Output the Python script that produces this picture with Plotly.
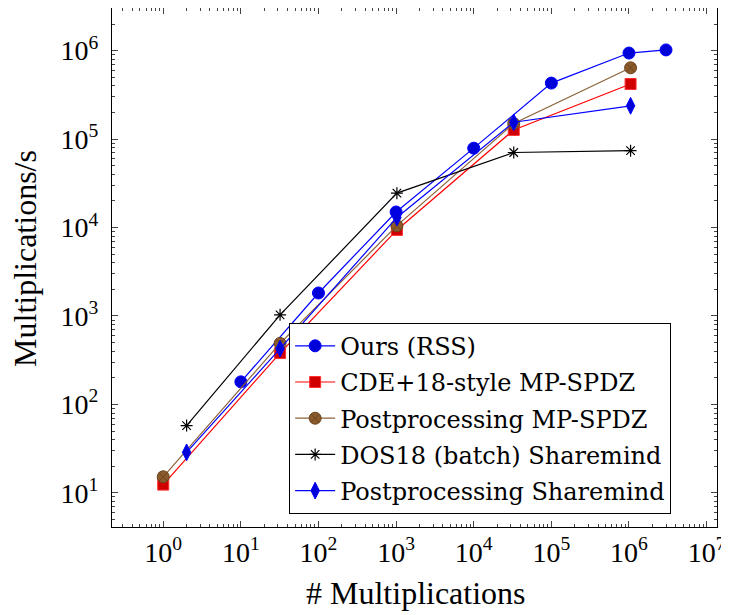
import plotly.graph_objects as go

# ---- data ----
ours_x = [10, 100, 1000, 1e4, 1e5, 1e6, 3e6]
ours_y = [180, 1820, 15000, 79000, 430000, 940000, 1020000]

cde_x = [1, 32, 1024, 32768, 1048576]
cde_y = [12.4, 381, 9400, 127000, 420000]

pp_spdz_x = [1, 32, 1024, 32768, 1048576]
pp_spdz_y = [15.2, 490, 10500, 150000, 640000]

dos_x = [2, 32, 1024, 32768, 1048576]
dos_y = [57.6, 1030, 24500, 70600, 74000]

pp_sm_x = [2, 32, 1024, 32768, 1048576]
pp_sm_y = [28.7, 427, 13000, 155000, 238000]

series_names = ["Ours (RSS)", "CDE+18-style MP-SPDZ", "Postprocessing MP-SPDZ",
                "DOS18 (batch) Sharemind", "Postprocessing Sharemind"]

x_tick_exps = [0, 1, 2, 3, 4, 5, 6, 7]
y_tick_exps = [1, 2, 3, 4, 5, 6]

x_title = "# Multiplications"
y_title = "Multiplications/s"

FONT = "Liberation Serif"
LFONT = "DejaVu Serif"

fig = go.Figure()

styles = [
    dict(line=dict(color="#0000ff", width=1.2),
         marker=dict(symbol="circle", size=12, color="#0000d9", line=dict(color="#0000ff", width=1))),
    dict(line=dict(color="#ff0000", width=1.2),
         marker=dict(symbol="square", size=11, color="#d00000", line=dict(color="#ff3030", width=1))),
    dict(line=dict(color="#8c6239", width=1.2),
         marker=dict(symbol="circle-x", size=12, color="#8b5a2b", line=dict(color="#6b4420", width=1))),
    dict(line=dict(color="#000000", width=1.2),
         marker=dict(symbol="asterisk-open", size=10, color="#000000", line=dict(color="#000000", width=1.2))),
    dict(line=dict(color="#0000ff", width=1.2),
         marker=dict(symbol="diamond-tall", size=12, color="#0000d9", line=dict(color="#0000ff", width=1))),
]
data = [(ours_x, ours_y), (cde_x, cde_y), (pp_spdz_x, pp_spdz_y), (dos_x, dos_y), (pp_sm_x, pp_sm_y)]

for i, ((xs, ys), name, st) in enumerate(zip(data, series_names, styles)):
    fig.add_trace(go.Scatter(x=xs, y=ys, mode="lines+markers", name=name,
                             legendgroup=f"g{i}", line=st["line"], marker=st["marker"]))

def minor_vals(lo, hi):
    v = []
    for e in range(lo, hi + 1):
        for k in range(2, 10):
            v.append(k * 10.0 ** e)
    return v

axis_common = dict(type="log", showgrid=False, zeroline=False, showline=True,
                   linecolor="#000000", linewidth=1, mirror="allticks", automargin=False,
                   ticks="inside", ticklen=6, tickcolor="#444444", tickwidth=1,
                   tickfont=dict(family=FONT, size=28, color="#000000"))

fig.update_xaxes(**axis_common, range=[-0.66, 7.134],
                 tickmode="array", tickvals=[10.0 ** e for e in x_tick_exps],
                 ticktext=[f"10<sup>{e}</sup>" for e in x_tick_exps],
                 minor=dict(tickmode="array", tickvals=minor_vals(-1, 7), ticks="inside",
                            ticklen=3, tickcolor="#444444"))
fig.update_yaxes(**axis_common, range=[0.614, 6.4825], ticklabelstandoff=7,
                 tickmode="array", tickvals=[10.0 ** e for e in y_tick_exps],
                 ticktext=[f"10<sup>{e}</sup>" for e in y_tick_exps],
                 minor=dict(tickmode="array", tickvals=minor_vals(0, 6), ticks="inside",
                            ticklen=3, tickcolor="#444444"))

fig.add_annotation(text=x_title, xref="paper", yref="paper", x=0.5025, y=-0.128,
                   xanchor="center", yanchor="middle", showarrow=False,
                   font=dict(family=FONT, size=32, color="#000000"))
fig.add_annotation(text=y_title, xref="paper", yref="paper", x=-0.145, y=0.517,
                   xanchor="center", yanchor="middle", showarrow=False, textangle=-90,
                   font=dict(family=FONT, size=32, color="#000000"))

fig.update_layout(
    width=721, height=607,
    margin=dict(l=103.7, r=11.7, t=0, b=87.5),
    plot_bgcolor="white", paper_bgcolor="white",
    font=dict(family=FONT, size=24, color="#000000"),
    legend=dict(x=0.2928, y=0.3936, xanchor="left", yanchor="top",
                bordercolor="#000000", borderwidth=1, bgcolor="white",
                font=dict(family=LFONT, size=24, color="#000000"),
                tracegroupgap=2, itemwidth=40),
    showlegend=True,
)

fig.write_html("out.html")
